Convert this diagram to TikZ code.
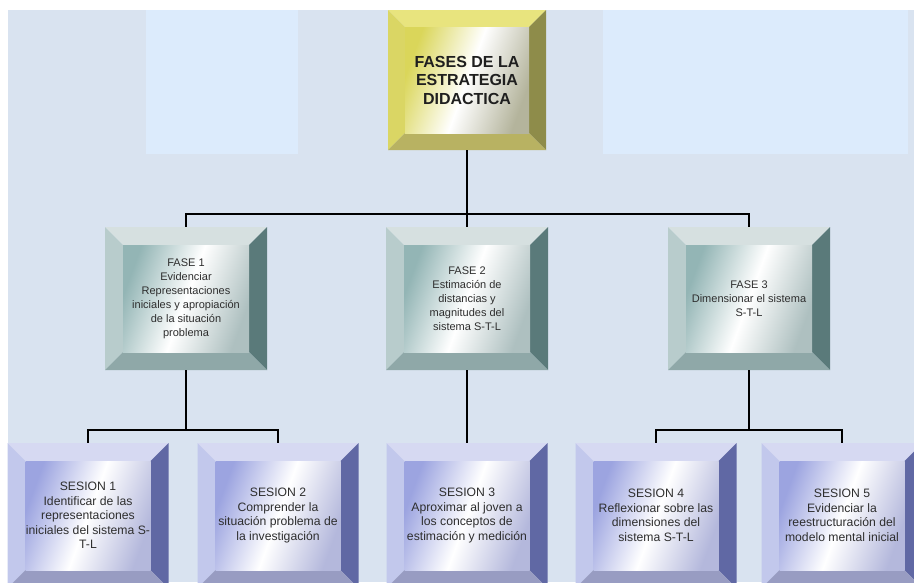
\documentclass[tikz,border=0pt]{standalone}
\usepackage{fontspec}
\setmainfont{Liberation Sans}
\usetikzlibrary{calc}
\definecolor{bg}{HTML}{D9E3F0}
\definecolor{bglight}{HTML}{DCEBFC}
\definecolor{txt}{HTML}{2E2E2E}
\definecolor{topT}{HTML}{E8E47E}
\definecolor{topL}{HTML}{DAD664}
\definecolor{topR}{HTML}{8E8C4A}
\definecolor{topB}{HTML}{B8B262}
\definecolor{topFL}{HTML}{DAD65A}
\definecolor{topFR}{HTML}{B4B49C}
\definecolor{phT}{HTML}{D6E0E0}
\definecolor{phL}{HTML}{B8CCCC}
\definecolor{phR}{HTML}{5A7A7A}
\definecolor{phB}{HTML}{8FA8A8}
\definecolor{phFL}{HTML}{93B5B5}
\definecolor{phFR}{HTML}{AEC0C0}
\definecolor{seT}{HTML}{D6D9F2}
\definecolor{seL}{HTML}{C2C8EC}
\definecolor{seR}{HTML}{6068A4}
\definecolor{seB}{HTML}{989CC2}
\definecolor{seFL}{HTML}{9CA4E0}
\definecolor{seFR}{HTML}{B4B8DC}
\newcommand\bevelpaint[7]{%
  \fill[#1] (path picture bounding box.north west) -- (path picture bounding box.north east)
    -- ([shift={(-#7,-#7)}]path picture bounding box.north east)
    -- ([shift={(#7,-#7)}]path picture bounding box.north west) -- cycle;
  \fill[#2] (path picture bounding box.north west) -- ([shift={(#7,-#7)}]path picture bounding box.north west)
    -- ([shift={(#7,#7)}]path picture bounding box.south west)
    -- (path picture bounding box.south west) -- cycle;
  \fill[#3] (path picture bounding box.north east) -- ([shift={(-#7,-#7)}]path picture bounding box.north east)
    -- ([shift={(-#7,#7)}]path picture bounding box.south east)
    -- (path picture bounding box.south east) -- cycle;
  \fill[#4] (path picture bounding box.south west) -- ([shift={(#7,#7)}]path picture bounding box.south west)
    -- ([shift={(-#7,#7)}]path picture bounding box.south east)
    -- (path picture bounding box.south east) -- cycle;
  \shade[left color=#5, right color=#6, middle color=white, shading angle=70]
    ([shift={(#7,-#7)}]path picture bounding box.north west) rectangle
    ([shift={(-#7,#7)}]path picture bounding box.south east);
}
\tikzset{
  bevelbase/.style={rectangle, inner sep=0pt, outer sep=0pt, align=center, text=txt},
  topbox/.style={bevelbase, minimum width=158pt, minimum height=140pt,
    font=\bfseries\fontsize{16}{18.5}\selectfont, text=black!88,
    path picture={\bevelpaint{topT}{topL}{topR}{topB}{topFL}{topFR}{17pt}}},
  phasebox/.style={bevelbase, minimum width=162pt, minimum height=143pt,
    font=\fontsize{11}{14}\selectfont,
    path picture={\bevelpaint{phT}{phL}{phR}{phB}{phFL}{phFR}{18pt}}},
  sesbox/.style={bevelbase, minimum width=161pt, minimum height=145pt,
    font=\fontsize{12.2}{14.5}\selectfont,
    path picture={\bevelpaint{seT}{seL}{seR}{seB}{seFL}{seFR}{18pt}}},
  conn/.style={draw=black, line width=1.6pt}
}
\begin{document}
\begin{tikzpicture}[x=1pt, y=-1pt]
\useasboundingbox (0,0) rectangle (914,582);
\clip (0,0) rectangle (914,582);
\fill[bg] (8,10) rectangle (914,582);
\fill[bglight] (146,10) rectangle (298,154);
\fill[bglight] (603,10) rectangle (908,154);

\node[topbox] (top) at (467,80) {FASES DE LA\\ESTRATEGIA\\DIDACTICA};

\node[phasebox] (f1) at (186,298.5) {FASE 1\\Evidenciar\\Representaciones\\iniciales y apropiación\\de la situación\\problema};
\node[phasebox] (f2) at (467,298.5) {FASE 2\\Estimación de\\distancias y\\magnitudes del\\sistema S-T-L};
\node[phasebox] (f3) at (749,298.5) {FASE 3\\Dimensionar el sistema\\S-T-L};

\node[sesbox] (s1) at (88,515.5) {SESION 1\\Identificar de las\\representaciones\\iniciales del sistema S-\\T-L};
\node[sesbox] (s2) at (278,515.5) {SESION 2\\Comprender la\\situación problema de\\la investigación};
\node[sesbox] (s3) at (467,515.5) {SESION 3\\Aproximar al joven a\\los conceptos de\\estimación y medición};
\node[sesbox] (s4) at (656,515.5) {SESION 4\\Reflexionar sobre las\\dimensiones del\\sistema S-T-L};
\node[sesbox] (s5) at (842,515.5) {SESION 5\\Evidenciar la\\reestructuración del\\modelo mental inicial};

\coordinate (j1) at (467,214);
\coordinate (j2) at (186,430);
\coordinate (j3) at (749,430);

\draw[conn] (top.south) -- (j1) -- (f2.north);
\draw[conn] (j1) -| (f1.north);
\draw[conn] (j1) -| (f3.north);
\draw[conn] (f1.south) -- (j2) -| (s1.north);
\draw[conn] (j2) -| (s2.north);
\draw[conn] (f2.south) -- (s3.north);
\draw[conn] (f3.south) -- (j3) -| (s4.north);
\draw[conn] (j3) -| (s5.north);
\end{tikzpicture}
\end{document}
